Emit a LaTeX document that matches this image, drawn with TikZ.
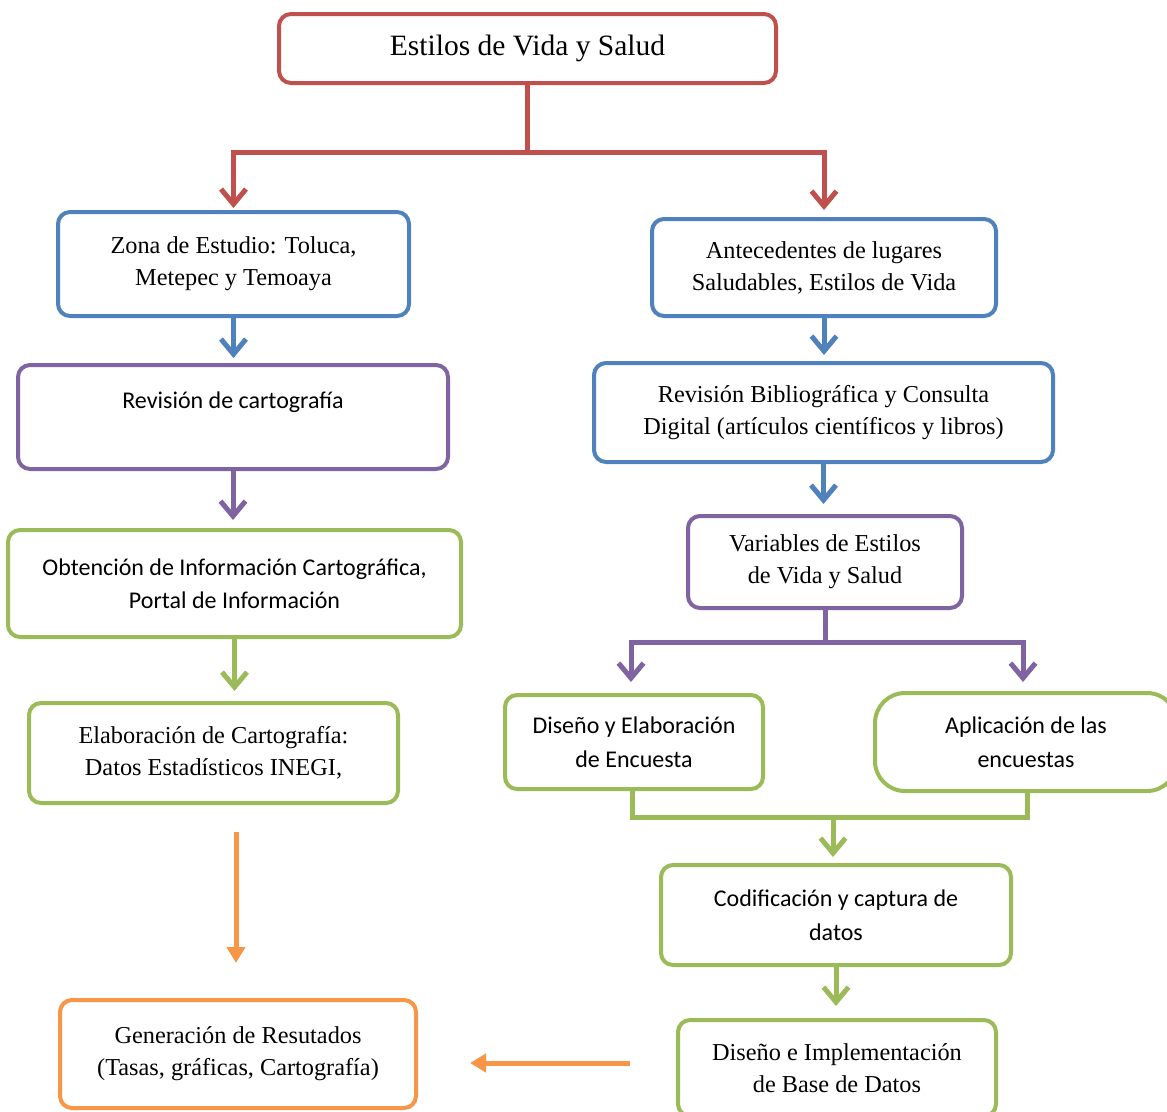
\documentclass[tikz,border=0pt]{standalone}
\usepackage{fontspec}
\usetikzlibrary{arrows.meta}
\newfontfamily\serf{Liberation Serif}
\newfontfamily\sanf{Carlito}
\definecolor{cred}{RGB}{192,80,77}
\definecolor{cblue}{RGB}{79,129,189}
\definecolor{cpurple}{RGB}{128,100,162}
\definecolor{cgreen}{RGB}{155,187,89}
\definecolor{corange}{RGB}{247,150,70}
\tikzset{
  box/.style={draw, line width=4pt, rounded corners=12pt, align=center, inner sep=0pt, fill=white},
  sertxt/.style={font=\serf\fontsize{24.3}{32}\selectfont},
  santxt/.style={font=\sanf\fontsize{24}{33.5}\selectfont},
  conn/.style={line width=5pt, -{Straight Barb[length=15pt,width=25pt,line width=5pt]}},
  oconn/.style={line width=5pt, draw=corange, -{Triangle[length=16pt,width=18pt]}},
  plain/.style={line width=5pt}
}
\begin{document}
\begin{tikzpicture}[x=1pt,y=-1pt]
\useasboundingbox (0,0) rectangle (1167,1111);
\clip (0,0) rectangle (1167,1111);
\fill[white] (0,0) rectangle (1167,1111);

\node[box, draw=cred, minimum width=497pt, minimum height=69pt, font=\serf\fontsize{29.5}{32}\selectfont] (title) at (527.5,48.5) {Estilos de Vida y Salud};

\node[box, draw=cblue, sertxt, minimum width=351pt, minimum height=104pt] (zona) at (233.5,264) {Zona de Estudio: Toluca,\\Metepec y Temoaya};
\node[box, draw=cblue, sertxt, minimum width=344pt, minimum height=97pt] (ante) at (824,267.5) {Antecedentes de lugares\\Saludables, Estilos de Vida};

\node[box, draw=cpurple, santxt, minimum width=430pt, minimum height=104pt] (revc) at (233,417) {Revisión de cartografía\\~};
\node[box, draw=cblue, sertxt, minimum width=459pt, minimum height=99pt] (revb) at (823.5,412.5) {Revisión Bibliográfica y Consulta\\Digital (artículos científicos y libros)};

\node[box, draw=cgreen, santxt, minimum width=453pt, minimum height=107pt] (obt) at (234.5,583.5) {Obtención de Información Cartográfica,\\Portal de Información};
\node[box, draw=cpurple, sertxt, minimum width=274pt, minimum height=92pt] (var) at (825,562) {Variables de Estilos\\de Vida y Salud};

\node[box, draw=cgreen, sertxt, minimum width=369pt, minimum height=100pt] (elab) at (213.5,753) {Elaboración de Cartografía:\\Datos Estadísticos INEGI,};
\node[box, draw=cgreen, santxt, minimum width=258pt, minimum height=94pt] (dis) at (634,742) {Diseño y Elaboración\\de Encuesta};
\node[box, draw=cgreen, santxt, rounded corners=30pt, minimum width=302pt, minimum height=98pt] (apl) at (1026,742) {Aplicación de las\\encuestas};

\node[box, draw=cgreen, santxt, minimum width=350pt, minimum height=100pt] (cod) at (836,915) {Codificación y captura de\\datos};
\node[box, draw=cgreen, sertxt, minimum width=318pt, minimum height=96pt] (dimp) at (837,1068) {Diseño e Implementación\\de Base de Datos};
\node[box, draw=corange, sertxt, minimum width=356pt, minimum height=108pt] (gen) at (238,1054) {Generación de Resutados\\(Tasas, gráficas, Cartografía)};

% red fork
\draw[conn, draw=cred] (title.south) -- ++(0,67) -| ([yshift=2pt]zona.north);
\draw[conn, draw=cred] (title.south) -- ++(0,67) -| ([yshift=7pt]ante.north);

% straight arrows
\draw[conn, draw=cblue] (zona.south) -- ([yshift=5pt]zona.south |- revc.north);
\draw[conn, draw=cblue] (ante.south) -- ([yshift=6pt]ante.south |- revb.north);
\draw[conn, draw=cpurple] (revc.south) -- ([yshift=8pt]revc.south |- obt.north);
\draw[conn, draw=cblue] (revb.south) -- ([yshift=10pt]revb.south |- var.north);
\draw[conn, draw=cgreen] (obt.south) -- ([yshift=10pt]obt.south |- elab.north);

% purple fork
\coordinate (pl) at (631,682);
\coordinate (pr) at (1023,682);
\draw[conn, draw=cpurple] (var.south) -- ++(0,32) -| (pl);
\draw[conn, draw=cpurple] (var.south) -- ++(0,32) -| (pr);

% green merge
\coordinate (gm) at (833,815);
\draw[plain, draw=cgreen] ([xshift=-2pt]dis.south) -- ++(0,26) -| ([xshift=1pt]apl.south);
\draw[conn, draw=cgreen] (gm) -- ([yshift=6pt]gm |- cod.north);
\draw[conn, draw=cgreen] (cod.south) -- ([yshift=12pt]cod.south |- dimp.north);

% orange arrows
\coordinate (o1) at (236,832);
\coordinate (o2) at (236,963);
\coordinate (o3) at (630,1063);
\coordinate (o4) at (470,1063);
\draw[oconn] (o1) -- (o2);
\draw[oconn] (o3) -- (o4);
\end{tikzpicture}
\end{document}
